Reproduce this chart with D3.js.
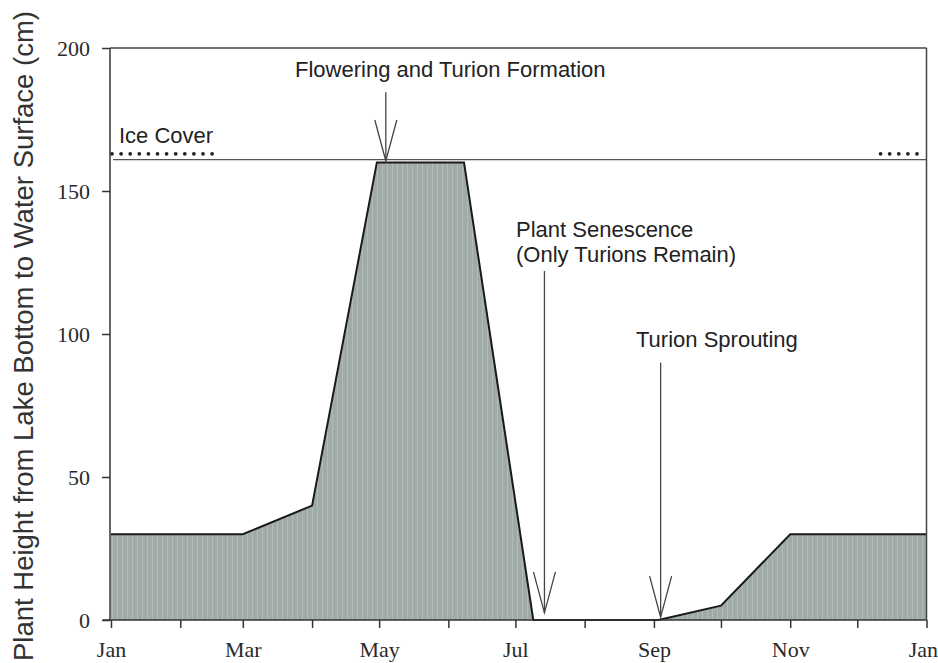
<!DOCTYPE html>
<html>
<head>
<meta charset="utf-8">
<script src="https://cdn.jsdelivr.net/npm/d3@7"></script>
<style>
  body { margin: 0; background: #fff; }
  svg { display: block; }
  .tick text { font-family: "Liberation Serif", "Times New Roman", serif; font-size: 22px; font-weight: normal; fill: #2a2a2a; }
  .note { font-family: "Liberation Sans", Arial, sans-serif; font-size: 22px; fill: #222; }
</style>
</head>
<body>
<svg id="chart" width="938" height="663"></svg>
<script>
// plant height through the year (cm)
const dates = ["2001-01-01", "2001-03-01", "2001-04-01", "2001-04-30", "2001-06-08",
               "2001-07-09", "2001-09-03", "2001-10-01", "2001-11-01", "2002-01-01"];
const heights = [30, 30, 40, 160, 160, 0, 0, 5, 30, 30];

const waterSurface = 161;
const iceLevel = 163;
const icePeriods = [["2001-01-01", "2001-02-19"], ["2001-12-11", "2001-12-29"]];

const tickLabels = ["Jan", "Mar", "May", "Jul", "Sep", "Nov", "Jan"];
const yTicks = [0, 50, 100, 150, 200];

// annotation arrows: date, top value, tip value
const arrowDates = ["2001-05-04", "2001-07-14", "2001-09-04"];
const arrowTops = [184.5, 122, 90];
const arrowTips = [160.5, 2.5, 1];

const parse = d3.timeParse("%Y-%m-%d");

const svg = d3.select("#chart");
const x0 = 111, x1 = 926.5, yTop = 48, yBot = 620;

const x = d3.scaleTime()
  .domain([parse("2001-01-01"), parse("2002-01-01")])
  .range([x0, x1]);
const y = d3.scaleLinear().domain([0, 200]).range([yBot, yTop]);

const data = dates.map((d, i) => ({ date: parse(d), h: heights[i] }));

// striped fill like the scanned original
const defs = svg.append("defs");
const pat = defs.append("pattern")
  .attr("id", "stripes")
  .attr("patternUnits", "userSpaceOnUse")
  .attr("width", 5).attr("height", 10);
pat.append("rect").attr("width", 5).attr("height", 10).attr("fill", "#a1aba6");
pat.append("rect").attr("x", 2).attr("width", 1).attr("height", 10).attr("fill", "#b2bbb6");

const area = d3.area()
  .x(d => x(d.date))
  .y0(y(0))
  .y1(d => y(d.h));

svg.append("path")
  .datum(data)
  .attr("d", area)
  .attr("fill", "url(#stripes)");

const line = d3.line()
  .x(d => x(d.date))
  .y(d => y(d.h));

svg.append("path")
  .datum(data)
  .attr("d", line)
  .attr("fill", "none")
  .attr("stroke", "#1a1a1a")
  .attr("stroke-width", 2);

// frame
svg.append("line")
  .attr("x1", x0 - 1).attr("x2", x1).attr("y1", yTop).attr("y2", yTop)
  .attr("stroke", "#444").attr("stroke-width", 1.5);
svg.append("line")
  .attr("x1", x1).attr("x2", x1).attr("y1", yTop).attr("y2", yBot)
  .attr("stroke", "#444").attr("stroke-width", 1.5);

// water surface
svg.append("line")
  .attr("x1", x0 + 2).attr("x2", x1)
  .attr("y1", y(waterSurface)).attr("y2", y(waterSurface))
  .attr("stroke", "#555").attr("stroke-width", 1.2);

// ice cover dots
svg.selectAll(".ice")
  .data(icePeriods)
  .enter()
  .append("line")
  .attr("class", "ice")
  .attr("x1", d => x(parse(d[0])) + 1)
  .attr("x2", d => x(parse(d[1])))
  .attr("y1", y(iceLevel)).attr("y2", y(iceLevel))
  .attr("stroke", "#222")
  .attr("stroke-width", 3.8)
  .attr("stroke-linecap", "round")
  .attr("stroke-dasharray", "0 9.1");

// axes
const xAxis = d3.axisBottom(x)
  .ticks(d3.timeMonth.every(1))
  .tickSize(8)
  .tickFormat((d, i) => (i % 2 === 0 ? tickLabels[i / 2] : ""));
const gx = svg.append("g")
  .attr("transform", "translate(0," + yBot + ")")
  .call(xAxis);
gx.select(".domain").attr("d", "M" + (x0 - 8) + ",0H" + x1).attr("stroke", "#333").attr("stroke-width", 1.5);
gx.selectAll(".tick line").attr("stroke", "#333").attr("stroke-width", 1.5);
gx.selectAll(".tick text").attr("dy", "0").attr("y", 37);
// last label sits against the page edge
gx.selectAll(".tick text").filter((d, i, n) => i === n.length - 1)
  .attr("text-anchor", "end").attr("x", 11);

const yAxis = d3.axisLeft(y)
  .tickValues(yTicks)
  .tickSize(8)
  .tickPadding(12);
const gy = svg.append("g")
  .attr("transform", "translate(" + (x0 - 1) + ",0)")
  .call(yAxis);
gy.select(".domain").attr("d", "M0," + yTop + "V" + yBot).attr("stroke", "#333").attr("stroke-width", 1.5);
gy.selectAll(".tick line").attr("stroke", "#333").attr("stroke-width", 1.5);

// arrows
const arrows = svg.selectAll(".arrow")
  .data(arrowDates.map((d, i) => ({ date: parse(d), top: arrowTops[i], tip: arrowTips[i] })))
  .enter()
  .append("g")
  .attr("class", "arrow")
  .attr("stroke", "#444")
  .attr("stroke-width", 1.3)
  .attr("fill", "none");
arrows.append("line")
  .attr("x1", d => x(d.date)).attr("x2", d => x(d.date))
  .attr("y1", d => y(d.top)).attr("y2", d => y(d.tip));
arrows.append("path")
  .attr("d", d => {
    const ax = x(d.date), ay = y(d.tip);
    return "M" + (ax - 11) + "," + (ay - 41) + "L" + ax + "," + ay + "L" + (ax + 11) + "," + (ay - 41);
  });

// labels
svg.append("text").attr("class", "note").attr("x", 295).attr("y", 77)
  .text("Flowering and Turion Formation");
svg.append("text").attr("class", "note").attr("x", 119).attr("y", 143)
  .text("Ice Cover");
svg.append("text").attr("class", "note").attr("x", 516).attr("y", 237)
  .text("Plant Senescence");
svg.append("text").attr("class", "note").attr("x", 516).attr("y", 262)
  .text("(Only Turions Remain)");
svg.append("text").attr("class", "note").attr("x", 636).attr("y", 347)
  .text("Turion Sprouting");

svg.append("text")
  .attr("transform", "translate(33,336) rotate(-90)")
  .attr("text-anchor", "middle")
  .style("font-family", "Liberation Sans, Arial, sans-serif")
  .style("font-size", "27.5px")
  .style("fill", "#333")
  .text("Plant Height from Lake Bottom to Water Surface (cm)");
</script>
</body>
</html>
